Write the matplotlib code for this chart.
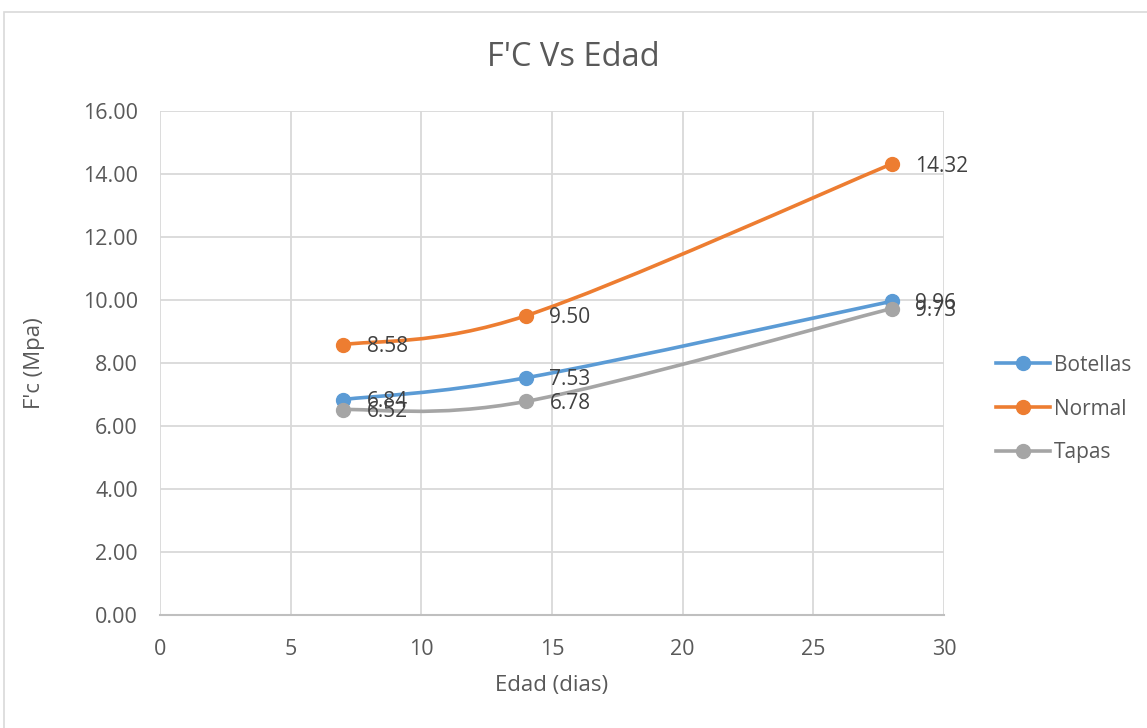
import matplotlib.pyplot as plt
from matplotlib.path import Path
from matplotlib.patches import PathPatch, Rectangle
from matplotlib.lines import Line2D
import numpy as np

# Datos
edad = [7, 14, 28]
series = ['Botellas', 'Normal', 'Tapas']
botellas = [6.84, 7.53, 9.96]
normal = [8.58, 9.50, 14.32]
tapas = [6.52, 6.78, 9.73]
valores = [botellas, normal, tapas]
colores = ['#5B9BD5', '#ED7D31', '#A5A5A5']

plt.rcParams['font.family'] = ['Open Sans', 'DejaVu Sans']
texto = '#595959'


def curva_suave(x, y):
    # Curva tipo Excel (Bezier cubica por tramos)
    p = np.column_stack([x, y]).astype(float)
    ext = np.vstack([p[0], p, p[-1]])
    verts = [p[0]]
    codes = [Path.MOVETO]
    for i in range(len(p) - 1):
        c1 = ext[i + 1] + (ext[i + 2] - ext[i]) / 6
        c2 = ext[i + 2] - (ext[i + 3] - ext[i + 1]) / 6
        verts += [c1, c2, ext[i + 2]]
        codes += [Path.CURVE4] * 3
    return Path(verts, codes)


fig = plt.figure(figsize=(11.47, 7.28), dpi=100)
ax = fig.add_axes([160 / 1147, 1 - 615 / 728, 784 / 1147, 504 / 728])

# Marco del grafico
fig.patches.append(Rectangle((4 / 1147, -0.1), 1.2, 1.1 - 12 / 728,
                             transform=fig.transFigure, fill=False,
                             edgecolor='#D9D9D9', linewidth=1.2))

for nombre, y, c in zip(series, valores, colores):
    ax.add_patch(PathPatch(curva_suave(edad, y), facecolor='none',
                           edgecolor=c, linewidth=2.6, zorder=3))
    ax.plot(edad, y, 'o', color=c, markersize=10, zorder=4)
    for xi, yi in zip(edad, y):
        ax.annotate(f'{yi:.2f}', (xi, yi), xytext=(17, -1.5),
                    textcoords='offset points', va='center', ha='left',
                    fontsize=15, color='#404040', zorder=5)

ax.set_xlim(0, 30)
ax.set_ylim(0, 16)
ax.set_xticks(np.arange(0, 31, 5))
ax.set_yticks(np.arange(0, 17, 2))
ax.set_yticklabels([f'{v:.2f}' for v in np.arange(0, 17, 2)])
ax.grid(True, color='#D9D9D9', linewidth=1.3)
ax.set_axisbelow(True)
for s in ['top', 'right', 'left']:
    ax.spines[s].set_visible(False)
ax.spines['bottom'].set_color('#BFBFBF')
ax.spines['bottom'].set_linewidth(1.5)
ax.tick_params(length=0, labelsize=15.5, labelcolor=texto)
ax.tick_params(axis='y', pad=16)
ax.tick_params(axis='x', pad=17)

fig.text(0.5, 1 - 58 / 728, "F'C Vs Edad", fontsize=23.5, color=texto,
         ha='center', va='center')
ax.set_xlabel('Edad (dias)', fontsize=16, color=texto, va='center')
ax.xaxis.set_label_coords(0.5, (615 - 686) / 504)
ax.set_ylabel("F'c (Mpa)", fontsize=16, color=texto, va='center')
ax.yaxis.set_label_coords((35 - 160) / 784, 0.5)

handles = [Line2D([], [], color=c, linewidth=2.6, marker='o', markersize=10)
           for c in colores]
ax.legend(handles, series, loc='center left', bbox_to_anchor=(996 / 1147, 1 - 409 / 728),
          bbox_transform=fig.transFigure, frameon=False, fontsize=15,
          labelcolor=texto, handlelength=2.6, handletextpad=0.2,
          labelspacing=1.1, borderpad=0, borderaxespad=0)

fig.savefig('out.png', dpi=100)
